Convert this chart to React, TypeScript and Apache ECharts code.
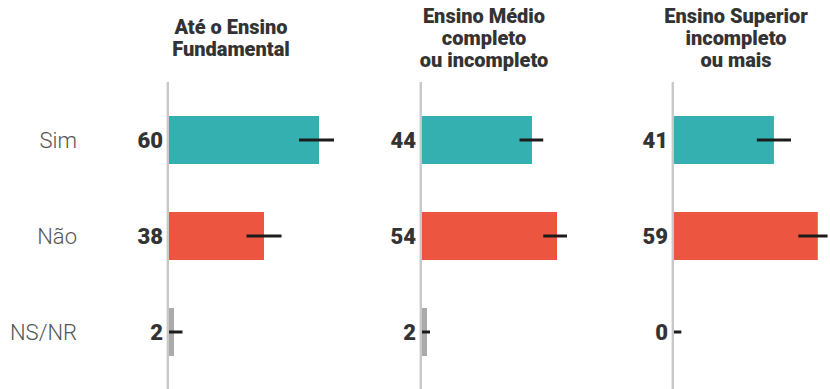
import React, { useEffect, useRef } from "react";
import * as echarts from "echarts";

const categories = ["Sim", "Não", "NS/NR"];
const panelTitles = [
  "Até o Ensino\nFundamental",
  "Ensino Médio\ncompleto\nou incompleto",
  "Ensino Superior\nincompleto\nou mais",
];
const fundamental = [60, 38, 2];
const medio = [44, 54, 2];
const superior = [41, 59, 0];
const fundamentalLow = [52, 31, 0];
const fundamentalHigh = [66, 45, 5.4];
const medioLow = [39, 48.5, 0];
const medioHigh = [48.5, 58, 3.2];
const superiorLow = [34, 51, 0];
const superiorHigh = [48, 63, 3];

const barColors = ["#35b0b1", "#ec5641", "#aaaaaa"];
const FONT = "Roboto, 'Noto Sans', sans-serif";

export default function App() {
  const ref = useRef<HTMLDivElement>(null);
  useEffect(() => {
    if (!ref.current) return;
    const chart = echarts.init(ref.current, undefined, { renderer: "svg" });
    const values = [fundamental, medio, superior];
    const lows = [fundamentalLow, medioLow, superiorLow];
    const highs = [fundamentalHigh, medioHigh, superiorHigh];
    const lefts = [169, 422, 674];
    const gridTop = 92;
    const gridHeight = 288;

    const grids = lefts.map((l) => ({ left: l, top: gridTop, width: 160, height: gridHeight }));
    const xAxes = lefts.map((_, i) => ({
      type: "value",
      gridIndex: i,
      min: 0,
      max: 64,
      show: false,
    }));
    const yAxes = lefts.map((_, i) => ({
      type: "category",
      gridIndex: i,
      data: categories,
      inverse: true,
      axisLine: { show: false },
      axisTick: { show: false },
      axisLabel: {
        show: i === 0,
        margin: 92,
        fontFamily: FONT,
        fontSize: 22,
        fontWeight: 300,
        color: "#555555",
      },
    }));
    const series: any[] = [];
    values.forEach((vals, i) => {
      series.push({
        type: "bar",
        xAxisIndex: i,
        yAxisIndex: i,
        data: vals,
        barWidth: "50%",
        itemStyle: { color: (p: any) => barColors[p.dataIndex] },
        label: {
          show: true,
          position: "left",
          distance: 6,
          fontFamily: FONT,
          fontSize: 22,
          fontWeight: 900,
          color: "#333333",
        },
        z: 2,
      });
      series.push({
        type: "custom",
        xAxisIndex: i,
        yAxisIndex: i,
        data: categories.map((_, k) => [lows[i][k], highs[i][k], k]),
        clip: false,
        z: 5,
        renderItem: (params: any, api: any) => {
          const lo = api.coord([api.value(0), api.value(2)]);
          const hi = api.coord([api.value(1), api.value(2)]);
          return {
            type: "line",
            shape: { x1: lo[0], y1: lo[1], x2: hi[0], y2: hi[1] },
            style: { stroke: "#1c1c1c", lineWidth: 3 },
          };
        },
      });
    });

    const graphics: any[] = [];
    lefts.forEach((l, i) => {
      graphics.push({
        type: "line",
        shape: { x1: l - 1.2, y1: 82, x2: l - 1.2, y2: 389 },
        style: { stroke: "#c8c8c8", lineWidth: 2.4 },
        z: 0,
      });
      graphics.push({
        type: "text",
        x: l + 62,
        y: 38,
        style: {
          text: panelTitles[i],
          textAlign: "center",
          textVerticalAlign: "middle",
          fontFamily: FONT,
          fontSize: 20,
          fontWeight: 900,
          lineHeight: 22,
          fill: "#333333",
        },
      });
    });

    chart.setOption({
      animation: false,
      backgroundColor: "#ffffff",
      grid: grids,
      xAxis: xAxes,
      yAxis: yAxes,
      series,
      graphic: graphics,
    });
    return () => chart.dispose();
  }, []);
  return (
    <div
      ref={ref}
      style={{ position: "fixed", left: 0, top: 0, width: 830, height: 389 }}
    />
  );
}
